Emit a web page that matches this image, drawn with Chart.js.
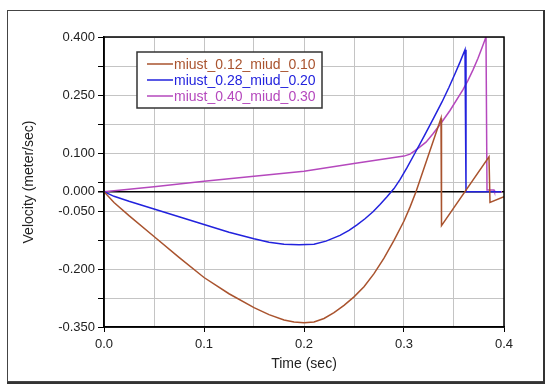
<!DOCTYPE html>
<html>
<head>
<meta charset="utf-8">
<script src="https://cdn.jsdelivr.net/npm/chart.js@4.4.1/dist/chart.umd.min.js"></script>
<style>
  html, body { margin: 0; padding: 0; background: #fff; }
  #velocityChart { display: block; }
</style>
</head>
<body>
<canvas id="velocityChart" width="550" height="388"></canvas>
<script>
// Series names and colours
const seriesNames = ['miust_0.12_miud_0.10', 'miust_0.28_miud_0.20', 'miust_0.40_miud_0.30'];
const seriesColors = ['#a9532e', '#2222dd', '#b548bd'];

// Time (sec) / velocity (meter/sec)
const timeA = [0, 0.01, 0.025, 0.05, 0.075, 0.1, 0.125, 0.15, 0.165, 0.18, 0.19, 0.2, 0.21, 0.22, 0.23, 0.24, 0.25, 0.26, 0.27, 0.28, 0.29, 0.3, 0.306, 0.312, 0.337, 0.3375, 0.385, 0.386, 0.4];
const velA  = [0, -0.028, -0.062, -0.116, -0.170, -0.222, -0.264, -0.300, -0.318, -0.332, -0.337, -0.339, -0.337, -0.328, -0.313, -0.294, -0.272, -0.246, -0.212, -0.172, -0.126, -0.076, -0.040, 0.000, 0.190, -0.088, 0.090, -0.028, -0.013];

const timeB = [0, 0.01, 0.025, 0.05, 0.075, 0.1, 0.125, 0.15, 0.165, 0.18, 0.195, 0.21, 0.222, 0.236, 0.245, 0.253, 0.261, 0.269, 0.276, 0.283, 0.29, 0.296, 0.303, 0.311, 0.32, 0.33, 0.338, 0.345, 0.351, 0.356, 0.361, 0.362, 0.397];
const velB  = [0, -0.012, -0.025, -0.045, -0.065, -0.085, -0.105, -0.122, -0.131, -0.136, -0.137, -0.136, -0.128, -0.113, -0.100, -0.086, -0.070, -0.052, -0.033, -0.013, 0.008, 0.031, 0.062, 0.100, 0.143, 0.192, 0.232, 0.270, 0.305, 0.335, 0.367, 0, 0];

const timeC = [0, 0.05, 0.1, 0.15, 0.2, 0.25, 0.3, 0.306, 0.311, 0.316, 0.322, 0.329, 0.337, 0.346, 0.359, 0.364, 0.369, 0.374, 0.378, 0.382, 0.383, 0.39, 0.3905, 0.398];
const velC  = [0, 0.013, 0.027, 0.040, 0.053, 0.073, 0.092, 0.097, 0.106, 0.116, 0.128, 0.150, 0.177, 0.210, 0.264, 0.288, 0.315, 0.345, 0.372, 0.400, 0.004, 0.004, 0, 0];

// Axis ticks
const xTicks = [0, 0.05, 0.1, 0.15, 0.2, 0.25, 0.3, 0.35, 0.4];
const xLabelled = [0, 0.1, 0.2, 0.3, 0.4];
const yTicks = [-0.35, -0.275, -0.2, -0.125, -0.05, 0, 0.025, 0.1, 0.175, 0.25, 0.325, 0.4];
const yLabelled = [-0.35, -0.2, -0.05, 0, 0.1, 0.25, 0.4];

const FONT = '"Liberation Sans", Arial, sans-serif';
const times = [timeA, timeB, timeC];
const vels = [velA, velB, velC];

// Outer frame, plot border and the boxed legend
const framePlugin = {
    id: 'frame',
    beforeDraw(chart) {
        const c = chart.ctx;
        c.save();
        c.fillStyle = '#fff';
        c.fillRect(0, 0, chart.width, chart.height);
        c.restore();
    },
    afterDraw(chart) {
        const c = chart.ctx;
        const a = chart.chartArea;
        c.save();
        // plot box
        c.strokeStyle = '#000';
        c.lineWidth = 1.5;
        c.strokeRect(a.left, a.top, a.right - a.left, a.bottom - a.top);
        // outer frame
        c.strokeStyle = '#444';
        c.lineWidth = 1;
        c.strokeRect(7.5, 10.5, 536, 371);
        c.strokeStyle = '#333';
        c.lineWidth = 2;
        c.beginPath();
        c.moveTo(544, 10);
        c.lineTo(544, 383);
        c.lineTo(7, 383);
        c.stroke();

        // legend
        const bx = 137, by = 52, bw = 185, bh = 56;
        c.fillStyle = '#fff';
        c.fillRect(bx, by, bw, bh);
        c.strokeStyle = '#333';
        c.lineWidth = 1.5;
        c.strokeRect(bx, by, bw, bh);
        c.font = '14px ' + FONT;
        c.textBaseline = 'middle';
        c.textAlign = 'left';
        chart.data.datasets.forEach((ds, i) => {
            const y = 64 + i * 16;
            c.strokeStyle = ds.borderColor;
            c.lineWidth = 1.5;
            c.beginPath();
            c.moveTo(147, y);
            c.lineTo(173, y);
            c.stroke();
            c.fillStyle = ds.borderColor;
            c.fillText(ds.label, 174, y + 1);
        });
        c.restore();
    }
};

const ctx = document.getElementById('velocityChart').getContext('2d');
const velocityChart = new Chart(ctx, {
    type: 'line',
    data: {
        datasets: seriesNames.map((name, i) => ({
            label: name,
            data: times[i].map((t, j) => ({ x: t, y: vels[i][j] })),
            borderColor: seriesColors[i],
            backgroundColor: seriesColors[i],
            borderWidth: 1.5,
            pointRadius: 0,
            fill: false,
            tension: 0
        }))
    },
    options: {
        responsive: false,
        animation: false,
        devicePixelRatio: 1,
        layout: { padding: { top: 37, right: 46, left: 0, bottom: 0 } },
        plugins: {
            legend: { display: false },
            tooltip: { enabled: false }
        },
        scales: {
            x: {
                type: 'linear',
                min: 0,
                max: 0.4,
                afterBuildTicks: s => { s.ticks = xTicks.map(v => ({ value: v })); },
                afterFit: s => { s.height = 61; },
                ticks: {
                    autoSkip: false,
                    maxRotation: 0,
                    padding: 5,
                    color: '#222',
                    font: { family: FONT, size: 13 },
                    callback: v => xLabelled.includes(v) ? v.toFixed(1) : ''
                },
                grid: {
                    color: '#c4c4c4',
                    lineWidth: 1,
                    tickLength: 5,
                    tickColor: c => xLabelled.includes(c.tick.value) ? '#000' : 'rgba(0,0,0,0)'
                },
                border: { color: '#000', width: 1.5 },
                title: {
                    display: true,
                    text: 'Time (sec)',
                    color: '#222',
                    font: { family: FONT, size: 14 },
                    padding: { top: 0, bottom: 15 }
                }
            },
            y: {
                min: -0.35,
                max: 0.4,
                afterBuildTicks: s => { s.ticks = yTicks.map(v => ({ value: v })); },
                afterFit: s => { s.width = 104; },
                ticks: {
                    autoSkip: false,
                    padding: 3,
                    color: '#222',
                    font: { family: FONT, size: 13 },
                    callback: v => yLabelled.includes(v) ? v.toFixed(3) : ''
                },
                grid: {
                    color: c => c.tick.value === 0 ? '#000' : '#c4c4c4',
                    lineWidth: c => c.tick.value === 0 ? 1.5 : 1,
                    tickLength: 6,
                    tickColor: '#000'
                },
                border: { color: '#000', width: 1.5 },
                title: {
                    display: true,
                    text: 'Velocity (meter/sec)',
                    color: '#222',
                    font: { family: FONT, size: 14 },
                    padding: { top: 21, bottom: 0 }
                }
            }
        }
    },
    plugins: [framePlugin]
});
</script>
</body>
</html>
